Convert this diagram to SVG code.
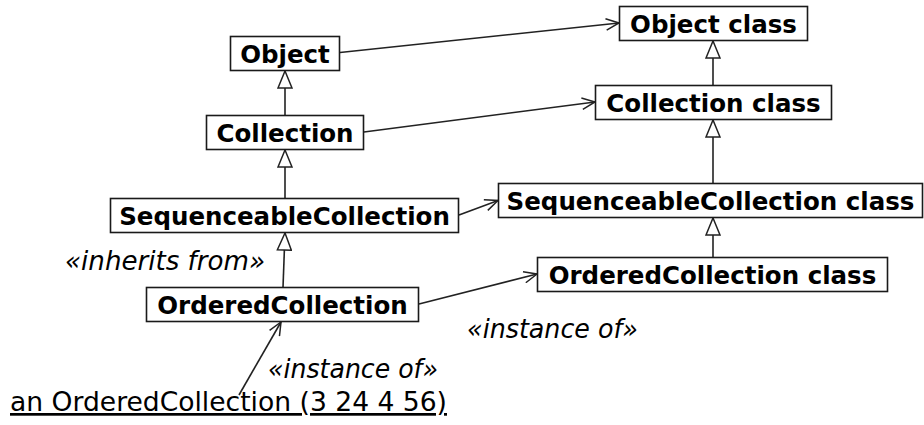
<svg xmlns="http://www.w3.org/2000/svg" width="924" height="425" viewBox="0 0 924 425">
  <style>
    .box { fill: #ffffff; stroke: #1a1a1a; stroke-width: 1.6; }
    .name { font-family: "DejaVu Sans", "Liberation Sans", sans-serif; font-weight: bold; font-size: 24.5px; fill: #000; text-anchor: middle; }
    .stereo { font-family: "DejaVu Sans", "Liberation Sans", sans-serif; font-style: italic; font-size: 26px; fill: #000; }
    .inst { font-family: "DejaVu Sans", "Liberation Sans", sans-serif; font-size: 27px; fill: #000; text-decoration: underline; }
    .assoc { fill: none; stroke: #222; stroke-width: 1.6; marker-end: url(#open); }
    .gen { fill: none; stroke: #222; stroke-width: 1.6; marker-end: url(#hollow); }
  </style>
  <defs>
    <marker id="open" viewBox="0 0 15 13" refX="14" refY="6.5" markerWidth="15" markerHeight="13" markerUnits="userSpaceOnUse" orient="auto">
      <path d="M1,0.8 L14,6.5 L1,12.2" fill="none" stroke="#222" stroke-width="1.5"/>
    </marker>
    <marker id="hollow" viewBox="0 0 19 16" refX="18" refY="8" markerWidth="19" markerHeight="16" markerUnits="userSpaceOnUse" orient="auto">
      <path d="M1,1 L18,8 L1,15 Z" fill="#fff" stroke="#222" stroke-width="1.5"/>
    </marker>
  </defs>

  <!-- connectors -->
  <g id="connectors">
    <line class="assoc" x1="340" y1="52.5" x2="619" y2="23"/>
    <line class="assoc" x1="364" y1="132" x2="595" y2="102"/>
    <line class="assoc" x1="459" y1="215" x2="498" y2="200.5"/>
    <line class="assoc" x1="419" y1="304" x2="537" y2="274"/>
    <line class="gen" x1="285" y1="115.5" x2="285" y2="71"/>
    <line class="gen" x1="285" y1="198.5" x2="285" y2="150"/>
    <line class="gen" x1="283" y1="287.5" x2="285" y2="233"/>
    <line class="gen" x1="713" y1="85.5" x2="713" y2="41"/>
    <line class="gen" x1="713" y1="183.5" x2="713" y2="120"/>
    <line class="gen" x1="713" y1="257.5" x2="713" y2="218"/>
    <line class="assoc" x1="239" y1="395" x2="281" y2="322"/>
  </g>

  <!-- class side -->
  <g id="object">
    <rect class="box" x="230.5" y="36.5" width="109" height="34"/>
    <text class="name" x="285" y="62.5">Object</text>
  </g>
  <g id="collection">
    <rect class="box" x="206.5" y="115.5" width="157" height="34"/>
    <text class="name" x="285" y="141.5">Collection</text>
  </g>
  <g id="sequenceable-collection">
    <rect class="box" x="110.5" y="198.5" width="348" height="34"/>
    <text class="name" x="284.5" y="224.5">SequenceableCollection</text>
  </g>
  <g id="ordered-collection">
    <rect class="box" x="146.5" y="287.5" width="272" height="34"/>
    <text class="name" x="282.5" y="313.5">OrderedCollection</text>
  </g>

  <!-- metaclass side -->
  <g id="object-class">
    <rect class="box" x="619.5" y="6.5" width="188" height="34"/>
    <text class="name" x="713.5" y="32.5">Object class</text>
  </g>
  <g id="collection-class">
    <rect class="box" x="595.5" y="85.5" width="236" height="34"/>
    <text class="name" x="713.5" y="111.5">Collection class</text>
  </g>
  <g id="sequenceable-collection-class">
    <rect class="box" x="498.5" y="183.5" width="424" height="34"/>
    <text class="name" x="710.5" y="209.5">SequenceableCollection class</text>
  </g>
  <g id="ordered-collection-class">
    <rect class="box" x="537.5" y="257.5" width="350" height="34"/>
    <text class="name" x="712.5" y="283.5">OrderedCollection class</text>
  </g>

  <!-- labels -->
  <g id="labels">
    <text class="stereo" x="65" y="270" textLength="200" lengthAdjust="spacingAndGlyphs">«inherits from»</text>
    <text class="stereo" x="467" y="338" textLength="171" lengthAdjust="spacingAndGlyphs">«instance of»</text>
    <text class="stereo" x="268" y="378" textLength="170" lengthAdjust="spacingAndGlyphs">«instance of»</text>
  </g>

  <!-- instance -->
  <g id="instance">
    <text class="inst" x="10" y="411" textLength="437" lengthAdjust="spacingAndGlyphs">an OrderedCollection (3 24 4 56)</text>
  </g>
</svg>
